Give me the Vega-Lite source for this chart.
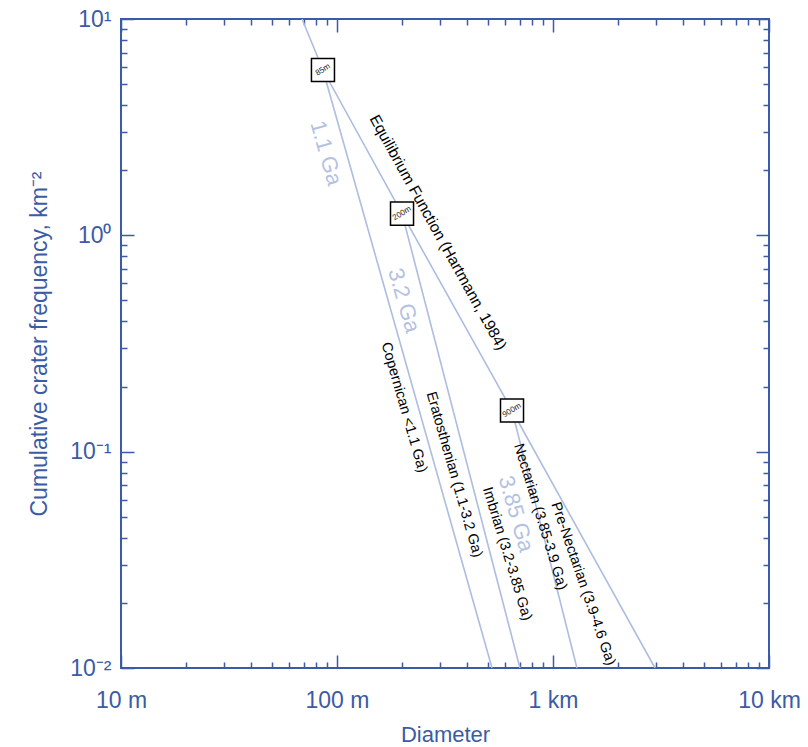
{
  "$schema": "https://vega.github.io/schema/vega-lite/v6.json",
  "width": 648,
  "height": 649,
  "autosize": {"type": "none"},
  "padding": {"left": 121, "top": 19, "right": 39, "bottom": 79},
  "background": "white",
  "config": {
    "view": {"stroke": "#3b5ba5", "strokeWidth": 2},
    "font": "Liberation Sans",
    "axis": {
      "domain": false,
      "grid": false,
      "tickColor": "#3b5ba5",
      "tickWidth": 1.5,
      "labelColor": "#3b5ba5",
      "labelFont": "Liberation Sans",
      "titleColor": "#3b5ba5",
      "titleFont": "Liberation Sans",
      "titleFontWeight": "normal",
      "labelOverlap": false,
      "labelFlush": false
    }
  },
  "datasets": {
    "lines": [
      {"s": "eq", "D": 68.9, "N": 10},
      {"s": "eq", "D": 86.1, "N": 5.81},
      {"s": "eq", "D": 200, "N": 1.26},
      {"s": "eq", "D": 646, "N": 0.155},
      {"s": "eq", "D": 2966, "N": 0.01},
      {"s": "g11", "D": 86.1, "N": 5.81},
      {"s": "g11", "D": 522, "N": 0.01},
      {"s": "g32", "D": 200, "N": 1.26},
      {"s": "g32", "D": 703, "N": 0.01},
      {"s": "g385", "D": 646, "N": 0.155},
      {"s": "g385", "D": 1291, "N": 0.01}
    ],
    "boxes": [
      {"D": 86.1, "N": 5.81, "t": "85m"},
      {"D": 200, "N": 1.26, "t": "200m"},
      {"D": 646, "N": 0.155, "t": "900m"}
    ]
  },
  "layer": [
    {
      "data": {"name": "lines"},
      "mark": {"type": "line", "color": "#adbddf", "strokeWidth": 1.6, "clip": true},
      "encoding": {
        "x": {
          "field": "D", "type": "quantitative",
          "scale": {"type": "log", "domain": [10, 10000], "nice": false},
          "axis": {
            "orient": "bottom",
            "values": [10, 20, 30, 40, 50, 60, 70, 80, 90, 100, 200, 300, 400, 500, 600, 700, 800, 900, 1000, 2000, 3000, 4000, 5000, 6000, 7000, 8000, 9000, 10000],
            "tickSize": {"condition": {"test": "abs(log(datum.value)/LN10 - round(log(datum.value)/LN10)) < 0.001", "value": -13}, "value": -6},
            "labelExpr": "datum.value == 10 ? '10 m' : datum.value == 100 ? '100 m' : datum.value == 1000 ? '1 km' : datum.value == 10000 ? '10 km' : ''",
            "labelFontSize": 23,
            "labelPadding": 34,
            "title": "Diameter",
            "titleFontSize": 22,
            "titlePadding": 5
          }
        },
        "y": {
          "field": "N", "type": "quantitative",
          "scale": {"type": "log", "domain": [0.01, 10], "nice": false},
          "axis": {
            "orient": "left",
            "values": [0.01, 0.02, 0.03, 0.04, 0.05, 0.06, 0.07, 0.08, 0.09, 0.1, 0.2, 0.3, 0.4, 0.5, 0.6, 0.7, 0.8, 0.9, 1, 2, 3, 4, 5, 6, 7, 8, 9, 10],
            "tickSize": {"condition": {"test": "abs(log(datum.value)/LN10 - round(log(datum.value)/LN10)) < 0.001", "value": -13}, "value": -6},
            "labelExpr": "abs(datum.value - 10) < 1e-9 ? '10¹' : abs(datum.value - 1) < 1e-9 ? '10⁰' : abs(datum.value - 0.1) < 1e-9 ? '10⁻¹' : abs(datum.value - 0.01) < 1e-9 ? '10⁻²' : ''",
            "labelFontSize": 23,
            "labelPadding": 23,
            "title": "Cumulative crater frequency, km⁻²",
            "titleFontSize": 23,
            "titlePadding": 18
          }
        },
        "detail": {"field": "s", "type": "nominal"}
      }
    },
    {
      "data": {"name": "boxes"},
      "mark": {"type": "point", "shape": "square", "filled": true, "fill": "white", "stroke": "black", "strokeWidth": 1.5, "size": 530, "opacity": 1},
      "encoding": {
        "x": {
          "field": "D", "type": "quantitative",
          "scale": {"type": "log", "domain": [10, 10000], "nice": false},
          "axis": {
            "orient": "top",
            "values": [10, 20, 30, 40, 50, 60, 70, 80, 90, 100, 200, 300, 400, 500, 600, 700, 800, 900, 1000, 2000, 3000, 4000, 5000, 6000, 7000, 8000, 9000, 10000],
            "tickSize": {"condition": {"test": "abs(log(datum.value)/LN10 - round(log(datum.value)/LN10)) < 0.001", "value": -13}, "value": -6},
            "labels": false,
            "title": null
          }
        },
        "y": {
          "field": "N", "type": "quantitative",
          "scale": {"type": "log", "domain": [0.01, 10], "nice": false},
          "axis": {
            "orient": "right",
            "values": [0.01, 0.02, 0.03, 0.04, 0.05, 0.06, 0.07, 0.08, 0.09, 0.1, 0.2, 0.3, 0.4, 0.5, 0.6, 0.7, 0.8, 0.9, 1, 2, 3, 4, 5, 6, 7, 8, 9, 10],
            "tickSize": {"condition": {"test": "abs(log(datum.value)/LN10 - round(log(datum.value)/LN10)) < 0.001", "value": -13}, "value": -6},
            "labels": false,
            "title": null
          }
        }
      }
    },
    {
      "data": {"name": "boxes"},
      "mark": {"type": "text", "fontSize": 8, "angle": -32, "color": "#222222", "align": "center", "baseline": "middle"},
      "encoding": {
        "x": {"field": "D", "type": "quantitative", "scale": {"type": "log", "domain": [10, 10000]}, "axis": null},
        "y": {"field": "N", "type": "quantitative", "scale": {"type": "log", "domain": [0.01, 10]}, "axis": null},
        "text": {"field": "t"}
      }
    },
    {
      "data": {"values": [{"D": 293.6, "N": 1.032, "t": "Equilibrium Function (Hartmann, 1984)"}]},
      "mark": {"type": "text", "fontSize": 15.5, "angle": 61, "color": "black", "align": "center", "baseline": "middle"},
      "encoding": {
        "x": {"field": "D", "type": "quantitative", "scale": {"type": "log", "domain": [10, 10000]}, "axis": null},
        "y": {"field": "N", "type": "quantitative", "scale": {"type": "log", "domain": [0.01, 10]}, "axis": null},
        "text": {"field": "t"}
      }
    },
    {
      "data": {"values": [
        {"D": 204, "N": 0.16, "t": "Copernican <1.1 Ga)"},
        {"D": 348, "N": 0.0783, "t": "Eratosthenian (1.1-3.2 Ga)"}
      ]},
      "mark": {"type": "text", "fontSize": 14.5, "angle": 74, "color": "black", "align": "center", "baseline": "middle"},
      "encoding": {
        "x": {"field": "D", "type": "quantitative", "scale": {"type": "log", "domain": [10, 10000]}, "axis": null},
        "y": {"field": "N", "type": "quantitative", "scale": {"type": "log", "domain": [0.01, 10]}, "axis": null},
        "text": {"field": "t"}
      }
    },
    {
      "data": {"values": [
        {"D": 612, "N": 0.0337, "t": "Imbrian (3.2-3.85 Ga)"},
        {"D": 871, "N": 0.05, "t": "Nectarian (3.85-3.9 Ga)"}
      ]},
      "mark": {"type": "text", "fontSize": 14.5, "angle": 73, "color": "black", "align": "center", "baseline": "middle"},
      "encoding": {
        "x": {"field": "D", "type": "quantitative", "scale": {"type": "log", "domain": [10, 10000]}, "axis": null},
        "y": {"field": "N", "type": "quantitative", "scale": {"type": "log", "domain": [0.01, 10]}, "axis": null},
        "text": {"field": "t"}
      }
    },
    {
      "data": {"values": [{"D": 1377, "N": 0.0245, "t": "Pre-Nectarian (3.9-4.6 Ga)"}]},
      "mark": {"type": "text", "fontSize": 14.5, "angle": 71, "color": "black", "align": "center", "baseline": "middle"},
      "encoding": {
        "x": {"field": "D", "type": "quantitative", "scale": {"type": "log", "domain": [10, 10000]}, "axis": null},
        "y": {"field": "N", "type": "quantitative", "scale": {"type": "log", "domain": [0.01, 10]}, "axis": null},
        "text": {"field": "t"}
      }
    },
    {
      "data": {"values": [
        {"D": 88.9, "N": 2.4, "t": "1.1 Ga"},
        {"D": 204, "N": 0.5, "t": "3.2 Ga"},
        {"D": 674, "N": 0.0516, "t": "3.85 Ga"}
      ]},
      "mark": {"type": "text", "fontSize": 22, "angle": 74, "color": "#b3c2e2", "align": "center", "baseline": "middle"},
      "encoding": {
        "x": {"field": "D", "type": "quantitative", "scale": {"type": "log", "domain": [10, 10000]}, "axis": null},
        "y": {"field": "N", "type": "quantitative", "scale": {"type": "log", "domain": [0.01, 10]}, "axis": null},
        "text": {"field": "t"}
      }
    }
  ],
  "resolve": {"axis": {"x": "independent", "y": "independent"}}
}
